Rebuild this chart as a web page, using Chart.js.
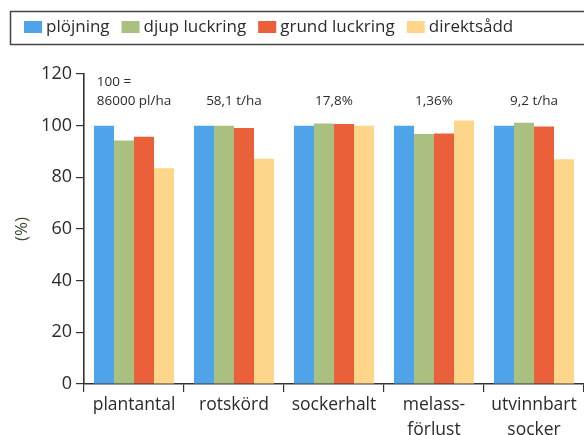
<!DOCTYPE html>
<html>
<head>
<meta charset="utf-8">
<script src="https://cdn.jsdelivr.net/npm/chart.js@4.4.1/dist/chart.umd.min.js"></script>
<style>
  html, body { margin: 0; padding: 0; background: #fff; }
  #wrap { width: 584px; height: 435px; }
</style>
</head>
<body>
<div id="wrap"><canvas id="c" width="584" height="435"></canvas></div>
<script>
// Relative yield per tillage method, plöjning = 100
const categories = ['plantantal', 'rotskörd', 'sockerhalt', ['melass-', 'förlust'], ['utvinnbart', 'socker']];
const seriesNames = ['plöjning', 'djup luckring', 'grund luckring', 'direktsådd'];
const plojning = [100, 100, 100, 100, 100];
const djupLuckring = [94.3, 100, 100.8, 96.8, 101.1];
const grundLuckring = [95.7, 99.1, 100.6, 97, 99.7];
const direktsadd = [83.5, 87.2, 100, 102, 87];
const referenceLabels = [['100 =', '86000 pl/ha'], ['58,1 t/ha'], ['17,8%'], ['1,36%'], ['9,2 t/ha']];
const yTicks = [0, 20, 40, 60, 80, 100, 120];

const colors = ['#4fa3e8', '#a9c081', '#e9603b', '#fdd68b'];
const FONT = '"Open Sans", sans-serif';
const INK = '#2b2b2b';

// Draws the boxed legend across the top and the reference values above each group
const decorations = {
  id: 'decorations',
  afterDraw(chart) {
    const ctx = chart.ctx;
    ctx.save();
    // legend frame
    ctx.strokeStyle = '#444';
    ctx.lineWidth = 1.5;
    ctx.strokeRect(10.5, 11.5, 590, 33);
    ctx.font = '17px ' + FONT;
    ctx.textBaseline = 'middle';
    ctx.textAlign = 'left';
    let x = 24;
    chart.data.datasets.forEach((ds) => {
      ctx.fillStyle = ds.backgroundColor;
      ctx.fillRect(x, 21, 18, 12);
      x += 22;
      ctx.fillStyle = INK;
      ctx.fillText(ds.label, x, 27);
      x += ctx.measureText(ds.label).width + 12;
    });

    // reference values above each category
    const xs = chart.scales.x, ys = chart.scales.y;
    ctx.font = '13.5px ' + FONT;
    ctx.fillStyle = INK;
    const yBase = ys.getPixelForValue(109.4);
    referenceLabels.forEach((lines, i) => {
      const cx = xs.getPixelForValue(i);
      if (lines.length === 1) {
        ctx.textAlign = 'center';
        ctx.fillText(lines[0], cx, yBase);
      } else {
        const w = ctx.measureText(lines[1]).width;
        ctx.textAlign = 'left';
        ctx.fillText(lines[0], cx - w / 2, yBase - 19);
        ctx.fillText(lines[1], cx - w / 2, yBase);
      }
    });
    ctx.restore();
  }
};

new Chart(document.getElementById('c'), {
  type: 'bar',
  data: {
    labels: categories,
    datasets: [
      { label: seriesNames[0], data: plojning, backgroundColor: colors[0] },
      { label: seriesNames[1], data: djupLuckring, backgroundColor: colors[1] },
      { label: seriesNames[2], data: grundLuckring, backgroundColor: colors[2] },
      { label: seriesNames[3], data: direktsadd, backgroundColor: colors[3] }
    ]
  },
  options: {
    responsive: false,
    animation: false,
    devicePixelRatio: 1,
    layout: { padding: { top: 74, left: 0, right: 0, bottom: 0 } },
    datasets: { bar: { categoryPercentage: 0.8, barPercentage: 1.0 } },
    plugins: {
      legend: { display: false },
      tooltip: { enabled: false }
    },
    scales: {
      x: {
        grid: { display: true, offset: true, drawOnChartArea: false, tickLength: 8, color: '#333', lineWidth: 1.2 },
        border: { display: true, color: '#333', width: 1.6 },
        ticks: { color: INK, padding: 1, maxRotation: 0, autoSkip: false, font: { family: FONT, size: 17.5, lineHeight: 1.4 } },
        afterFit(scale) { scale.height = 51; }
      },
      y: {
        min: 0,
        max: 120,
        afterBuildTicks(scale) { scale.ticks = yTicks.map(v => ({ value: v })); },
        grid: { display: true, drawOnChartArea: false, tickLength: 8, color: '#333', lineWidth: 1.2 },
        border: { display: true, color: '#333', width: 1.6 },
        ticks: { color: INK, padding: 4, font: { family: FONT, size: 18 } },
        title: { display: true, text: '(%)', color: '#3a4a33', padding: { top: 12, bottom: 0 }, font: { family: FONT, size: 17 } },
        afterFit(scale) { scale.width = 84; }
      }
    }
  },
  plugins: [decorations]
});
</script>
</body>
</html>
